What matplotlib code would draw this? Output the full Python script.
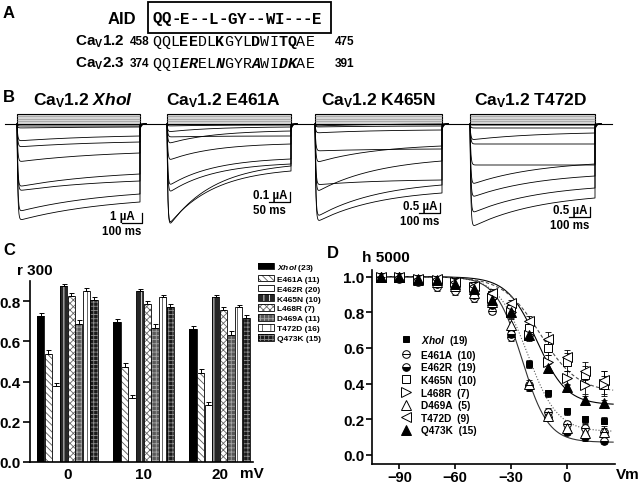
import numpy as np
import matplotlib
matplotlib.use('Agg')
import matplotlib.pyplot as plt
from matplotlib.patches import Rectangle
from matplotlib.lines import Line2D

plt.rcParams['font.family'] = ['Liberation Sans', 'DejaVu Sans']
plt.rcParams['font.weight'] = 'bold'
plt.rcParams['mathtext.fontset'] = 'custom'
plt.rcParams['mathtext.rm'] = 'Liberation Sans:bold'
plt.rcParams['mathtext.bf'] = 'Liberation Sans:bold'
plt.rcParams['mathtext.it'] = 'Liberation Sans:italic:bold'
plt.rcParams['hatch.linewidth'] = 0.6
plt.rcParams['axes.linewidth'] = 1.2

# ---- A: AID sequences
aid_motif = 'QQ-E--L-GY--WI---E'
cav12_seq = 'QQLEEDLKGYLDWITQAE'
cav23_seq = 'QQIERELNGYRAWIDKAE'
marked = [3, 4, 7, 11, 14, 15]
cav12_range = ['458', '475']
cav23_range = ['374', '391']

# ---- B: current traces (peak and end-of-pulse amplitude, uA)
b_titles = [r'Ca$_\mathrm{V}$1.2 $\mathit{XhoI}$', r'Ca$_\mathrm{V}$1.2 E461A',
            r'Ca$_\mathrm{V}$1.2 K465N', r'Ca$_\mathrm{V}$1.2 T472D']
b_dur = [600, 300, 600, 600]      # ms
b_tau = [450, 110, 300, 330]      # ms
b_peak = [[0.2, 0.4, 1.7, 2.3, 3.8, 6.3, 6.7, 8.8, 9.7],
          [0.02, 0.08, 0.13, 0.20, 0.37, 0.63, 0.70, 1.03, 1.05],
          [0.1, 0.15, 0.45, 1.35, 1.95, 3.45, 3.05, 4.7, 4.95],
          [0.05, 0.2, 0.8, 1.0, 2.05, 3.05, 3.7, 4.5, 5.2]]
b_end = [[0.2, 0.3, 1.2, 1.8, 2.9, 5.0, 5.7, 7.0, 7.8],
         [0.01, 0.03, 0.12, 0.07, 0.20, 0.35, 0.40, 0.47, 0.42],
         [0.0, 0.1, 0.3, 1.25, 1.1, 1.85, 2.8, 3.05, 3.45],
         [0.05, 0.2, 0.45, 1.0, 2.05, 2.0, 2.6, 3.2, 3.7]]
b_scale_ua = [1, 0.1, 0.5, 0.5]
b_scale_ms = [100, 50, 100, 100]
b_scale_txt = [('1 µA', '100 ms'), ('0.1 µA', '50 ms'), ('0.5 µA', '100 ms'), ('0.5 µA', '100 ms')]

# ---- C: r300
c_groups = ['0', '10', '20']
c_labels = [r'$\mathit{XhoI}$ (23)', 'E461A (11)', 'E462R (20)', 'K465N (10)',
            'L468R (7)', 'D469A (11)', 'T472D (16)', 'Q473K (15)']
r300 = [[0.728, 0.695, 0.662],
        [0.537, 0.471, 0.441],
        [0.380, 0.317, 0.284],
        [0.877, 0.849, 0.819],
        [0.824, 0.786, 0.756],
        [0.687, 0.667, 0.633],
        [0.852, 0.819, 0.770],
        [0.806, 0.773, 0.715]]
r300_err = [0.015, 0.02, 0.015, 0.01, 0.015, 0.02, 0.012, 0.015]

# ---- D: h5000
vm = [-100, -90, -80, -70, -60, -50, -40, -30, -20, -10, 0, 10, 20]
d_labels = [r'$\mathit{XhoI}$  (19)', 'E461A  (10)', 'E462R  (19)', 'K465N  (10)',
            'L468R  (7)', 'D469A  (5)', 'T472D  (9)', 'Q473K  (15)']
h5000 = [[1.0, 1.0, 0.99, 0.98, 0.96, 0.93, 0.87, 0.70, 0.51, 0.345, 0.245, 0.20, 0.19],
         [1.0, 0.99, 0.97, 0.94, 0.92, 0.88, 0.81, 0.66, 0.39, 0.24, 0.17, 0.15, 0.13],
         [1.0, 1.0, 0.98, 0.96, 0.94, 0.90, 0.84, 0.68, 0.38, 0.21, 0.13, 0.10, 0.08],
         [1.0, 1.0, 0.99, 0.98, 0.97, 0.95, 0.90, 0.82, 0.71, 0.60, 0.52, 0.45, 0.39],
         [1.0, 1.0, 0.99, 0.98, 0.97, 0.94, 0.88, 0.80, 0.67, 0.52, 0.43, 0.39, 0.40],
         [1.0, 1.0, 0.98, 0.97, 0.95, 0.91, 0.86, 0.73, 0.40, 0.22, 0.15, 0.12, 0.13],
         [1.0, 1.0, 0.99, 0.99, 0.97, 0.95, 0.91, 0.85, 0.75, 0.65, 0.55, 0.47, 0.42],
         [1.0, 1.0, 0.99, 0.98, 0.96, 0.93, 0.87, 0.80, 0.67, 0.49, 0.38, 0.31, 0.29]]
h5000_err = [[0, 0, 0, 0.01, 0.01, 0.01, 0.02, 0.02, 0.02, 0.02, 0.02, 0.02, 0.02],
             [0, 0, 0.01, 0.02, 0.02, 0.02, 0.02, 0.02, 0.02, 0.02, 0.02, 0.02, 0.02],
             [0, 0, 0.01, 0.01, 0.02, 0.02, 0.02, 0.02, 0.02, 0.02, 0.02, 0.02, 0.02],
             [0, 0, 0, 0.01, 0.01, 0.02, 0.02, 0.03, 0.04, 0.04, 0.05, 0.05, 0.05],
             [0, 0, 0, 0.01, 0.01, 0.02, 0.02, 0.03, 0.03, 0.04, 0.04, 0.05, 0.07],
             [0, 0, 0.01, 0.01, 0.01, 0.02, 0.02, 0.03, 0.02, 0.02, 0.03, 0.03, 0.03],
             [0, 0, 0, 0.01, 0.01, 0.01, 0.02, 0.02, 0.03, 0.04, 0.04, 0.05, 0.05],
             [0, 0, 0, 0.01, 0.01, 0.01, 0.02, 0.02, 0.02, 0.02, 0.02, 0.02, 0.02]]
# Boltzmann fits: bottom, V50, slope
fit_bottom = [0.13, 0.07, 0.28, 0.35]
fit_v50 = [-21, -24, -16, -14]
fit_k = [8, 7, 8, 10]

W, H = 640, 485
fig = plt.figure(figsize=(6.4, 4.85), dpi=100)


def px_rect(x0, y0, x1, y1):
    return [x0 / W, 1 - y1 / H, (x1 - x0) / W, (y1 - y0) / H]


ov = fig.add_axes([0, 0, 1, 1])
ov.set_xlim(0, W)
ov.set_ylim(H, 0)
ov.axis('off')

# ---------------- A
ov.text(3, 13, 'A', fontsize=12, va='center')
ov.text(108, 20, 'AID', fontsize=12, va='center')
ov.add_patch(Rectangle((148, 3), 183, 31, fill=False, ec='k', lw=1.3))
for i, ch in enumerate(aid_motif):
    ov.text(157 + i * 9.4, 19, ch, family='Liberation Mono', fontsize=11.3,
            fontweight='bold', ha='center', va='center')
rows = [(42, r'Ca$_\mathrm{V}$1.2', cav12_seq, cav12_range, 'normal'),
        (64, r'Ca$_\mathrm{V}$2.3', cav23_seq, cav23_range, 'italic')]
for y, name, seq, rng, sty in rows:
    ov.text(75, y, name, fontsize=11, va='center')
    ov.text(130, y, rng[0], fontsize=8.5, va='center')
    ov.text(335, y, rng[1], fontsize=8.5, va='center')
    for i, ch in enumerate(seq):
        hit = i in marked
        ov.text(157 + i * 9, y, ch, family='Liberation Mono', fontsize=10.8,
                fontweight='bold' if hit else 'normal',
                style=sty if hit else 'normal', ha='center', va='center')

# ---------------- B
ov.text(3, 97, 'B', fontsize=12, va='center')
ov.plot([5, 612], [125, 125], color='k', lw=0.8)
b_left = [17, 167, 315, 470]
b_width = [123, 124, 127, 125]
b_pxua = [10, 100, 20, 20]
b_bar = [(142, 224), (290, 203), (440, 214), (590, 218)]
b_title_x = [83, 223, 378, 530]
for p in range(4):
    L, Wd, D, s = b_left[p], b_width[p], b_dur[p], b_pxua[p]
    ax = fig.add_axes(px_rect(L - 10, 105, L + Wd + 25, 240))
    ax.set_xlim(-10 / Wd * D, (Wd + 25) / Wd * D)
    ax.set_ylim(-(240 - 125) / s, (125 - 105) / s)
    ax.axis('off')
    ax.add_patch(Rectangle((0, 0), D, 10.5 / s, fc='#d6d6d6', ec='k', lw=0.8))
    ax.hlines(np.array([3, 5.5, 8]) / s, 0, D, color='0.6', lw=0.5)
    t = np.linspace(0, D, 500)
    t2 = np.linspace(D, D * 1.05, 40)
    eD = np.exp(-D / b_tau[p])
    for pk, en in zip(b_peak[p], b_end[p]):
        inact = en + (pk - en) * (np.exp(-t / b_tau[p]) - eD) / (1 - eD)
        cur = -inact * (1 - np.exp(-t / (D * 0.006)))
        tail = -0.06 * pk * np.exp(-(t2 - D) / (D * 0.01))
        ax.plot(np.r_[t, t2], np.r_[cur, tail], color='k', lw=0.6)
    bx, by = b_bar[p]
    tb = (bx - L) / Wd * D
    yb = -(by - 125) / s
    ax.plot([tb - b_scale_ms[p], tb, tb], [yb, yb, yb + b_scale_ua[p]], color='k', lw=0.9)
    ax.annotate(b_scale_txt[p][0], (tb, yb), xytext=(-14.5, 5), textcoords='offset points',
                ha='center', va='center', fontsize=8.3)
    ax.annotate(b_scale_txt[p][1], (tb, yb), xytext=(-14.5, -5.5), textcoords='offset points',
                ha='center', va='center', fontsize=8.3)
    ov.text(b_title_x[p], 101, b_titles[p], fontsize=12.5, ha='center', va='center')

# ---------------- C
ov.text(3, 251, 'C', fontsize=12, va='center')
ov.text(17, 271, 'r 300', fontsize=11, va='center')
ov.text(240, 474, 'mV', fontsize=11, va='center')
axC = fig.add_axes(px_rect(30, 282, 253, 463))
c_style = [('k', '', 'k'), ('w', '\\\\\\\\\\', '0.35'), ('w', '', 'k'), ('0.15', '|||', 'w'),
           ('w', 'xxxxx', '0.4'), ('0.35', '++++', '0.65'), ('w', '||', '0.3'),
           ('0.1', '++++', '0.55')]
handles = []
for k in range(8):
    fc, hatch, hc = c_style[k]
    x = np.arange(3) + (k - 3.5) * 0.1
    axC.bar(x, r300[k], 0.095, color=fc, hatch=hatch, edgecolor=hc, lw=0)
    axC.bar(x, r300[k], 0.095, fill=False, edgecolor='k', lw=0.6)
    axC.errorbar(x, r300[k], yerr=[np.zeros(3), np.full(3, r300_err[k])], fmt='none',
                 ecolor='k', elinewidth=0.7, capsize=1.8, capthick=0.7)
    handles.append((Rectangle((0, 0), 1, 1, fc=fc, hatch=hatch, ec=hc, lw=0),
                    Rectangle((0, 0), 1, 1, fill=False, ec='k', lw=0.6)))
axC.set_xlim(-0.493, 2.44)
axC.set_ylim(0, 0.9)
axC.set_xticks([0, 1, 2], c_groups)
axC.set_yticks([0, 0.2, 0.4, 0.6, 0.8], ['0.0', '0.2', '0.4', '0.6', '0.8'])
axC.tick_params(axis='x', length=0, labelsize=11, pad=3.5)
axC.tick_params(axis='y', length=5, width=1.2, labelsize=11, pad=1.5)
for sp in ['top', 'right']:
    axC.spines[sp].set_visible(False)
axC.legend(handles, c_labels, loc='upper left', bbox_to_anchor=(258 / W, 1 - 263 / H),
           bbox_transform=fig.transFigure, frameon=False, fontsize=6, handlelength=1.9,
           handleheight=0.85, handletextpad=0.4, labelspacing=0.2, borderpad=0,
           borderaxespad=0)

# ---------------- D
ov.text(327, 253, 'D', fontsize=12, va='center')
ov.text(362, 258, 'h 5000', fontsize=11, va='center')
ov.text(616, 475, 'Vm', fontsize=11, va='center')
axD = fig.add_axes(px_rect(372, 270.6, 615, 465))
vv = np.linspace(-100, 25, 300)
fit_ls = [':', '-', '-', (0, (3, 2))]
fit_col = ['0.35', '0.2', 'k', '0.3']
for j in range(4):
    h = fit_bottom[j] + (1 - fit_bottom[j]) / (1 + np.exp((vv - fit_v50[j]) / fit_k[j]))
    axD.plot(vv, h, ls=fit_ls[j], color=fit_col[j], lw=0.8, zorder=1)
d_style = [dict(marker='s', mfc='k', ms=5), dict(marker='o', mfc='w', ms=5.5),
           dict(marker='o', mfc='k', mfcalt='w', fillstyle='bottom', ms=5.5),
           dict(marker='s', mfc='w', ms=5.5), dict(marker='>', mfc='w', ms=6.5),
           dict(marker='^', mfc='w', ms=6.5), dict(marker='<', mfc='w', ms=6.5),
           dict(marker='^', mfc='k', ms=6.5)]
d_handles = []
for k in range(8):
    axD.errorbar(vm, h5000[k], yerr=h5000_err[k], fmt='none', ecolor='k', elinewidth=0.6,
                 capsize=2, capthick=0.6, zorder=2)
    ln, = axD.plot(vm, h5000[k], ls='none', mec='k', mew=0.7, zorder=3, **d_style[k])
    if k == 1:
        bar, = axD.plot(vm, h5000[k], ls='none', marker='_', mec='k', ms=5.5, mew=0.7, zorder=4)
        d_handles.append((ln, bar))
    else:
        d_handles.append(ln)
axD.set_xlim(-104.7, 26)
axD.set_ylim(-0.052, 1.04)
axD.set_xticks([-90, -60, -30, 0])
axD.set_yticks([0, 0.2, 0.4, 0.6, 0.8, 1.0], ['0.0', '0.2', '0.4', '0.6', '0.8', '1.0'])
axD.tick_params(length=4, width=1.2, labelsize=11, pad=1.5)
axD.tick_params(axis='x', length=3.5, labelsize=10.5, pad=0.5)
for sp in ['top', 'right']:
    axD.spines[sp].set_visible(False)
axD.legend(d_handles, d_labels, loc='upper left', bbox_to_anchor=(401 / W, 1 - 334 / H),
           bbox_transform=fig.transFigure, frameon=False, fontsize=7.3, handlelength=1.0,
           handletextpad=1.0, labelspacing=0.26, borderpad=0, borderaxespad=0)

fig.savefig('out.png', dpi=100)
